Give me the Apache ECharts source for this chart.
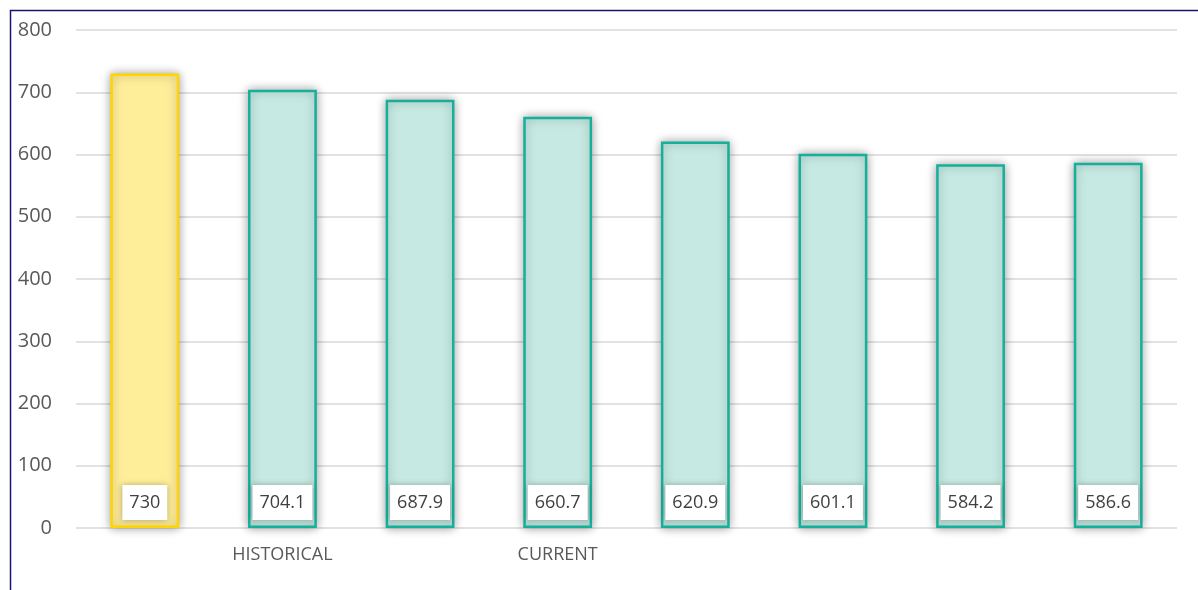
<!DOCTYPE html>
<html><head><meta charset="utf-8">
<script src="https://cdn.jsdelivr.net/npm/echarts@6/dist/echarts.min.js"></script>
<style>html,body{margin:0;padding:0;background:#fff}#c{width:1198px;height:590px}</style>
</head><body><div id="c"></div>
<script>
const categories = ['', 'HISTORICAL', '', 'CURRENT', '', '', '', ''];
const values = [730, 704.1, 687.9, 660.7, 620.9, 601.1, 584.2, 586.6];
const yTicks = {min: 0, max: 800, interval: 100};

const chart = echarts.init(document.getElementById('c'), null, {renderer: 'canvas'});
const data = values.map((v, i) => ({
  value: v,
  itemStyle: i === 0
    ? {color: '#FFEE99', borderColor: '#FFD400'}
    : {color: '#C6EAE3', borderColor: '#14B09A'}
}));
chart.setOption({
  animation: false,
  graphic: [{
    type: 'rect', left: 8, top: 8, z: 100, silent: true,
    shape: {width: 1400, height: 800},
    style: {fill: 'none', stroke: '#15156B', lineWidth: 1.5}
  }],
  grid: {left: 76, right: 21, top: 30, bottom: 62, containLabel: false},
  xAxis: {
    type: 'category', data: categories,
    axisLine: {show: false}, axisTick: {show: false},
    axisLabel: {color: '#595959', fontSize: 18, margin: 18, fontFamily: 'Open Sans', interval: 0}
  },
  yAxis: {
    type: 'value', min: yTicks.min, max: yTicks.max, interval: yTicks.interval,
    axisLine: {show: false}, axisTick: {show: false},
    splitLine: {lineStyle: {color: '#D9D9D9', width: 1.5}},
    axisLabel: {color: '#595959', fontSize: 20, margin: 24, fontFamily: 'Open Sans'}
  },
  series: [{
    type: 'bar', data: data, barWidth: '50%',
    itemStyle: {borderWidth: 2.5, shadowBlur: 10, shadowColor: 'rgba(0,0,0,0.35)', shadowOffsetY: 0},
    label: {
      show: true, position: 'insideBottom', distance: 8,
      color: '#404040', fontSize: 18, fontFamily: 'Open Sans', lineHeight: 21,
      backgroundColor: '#fff', padding: [7, 7, 7, 7],
      shadowBlur: 6, shadowColor: 'rgba(0,0,0,0.3)'
    }
  }]
});
</script></body></html>
